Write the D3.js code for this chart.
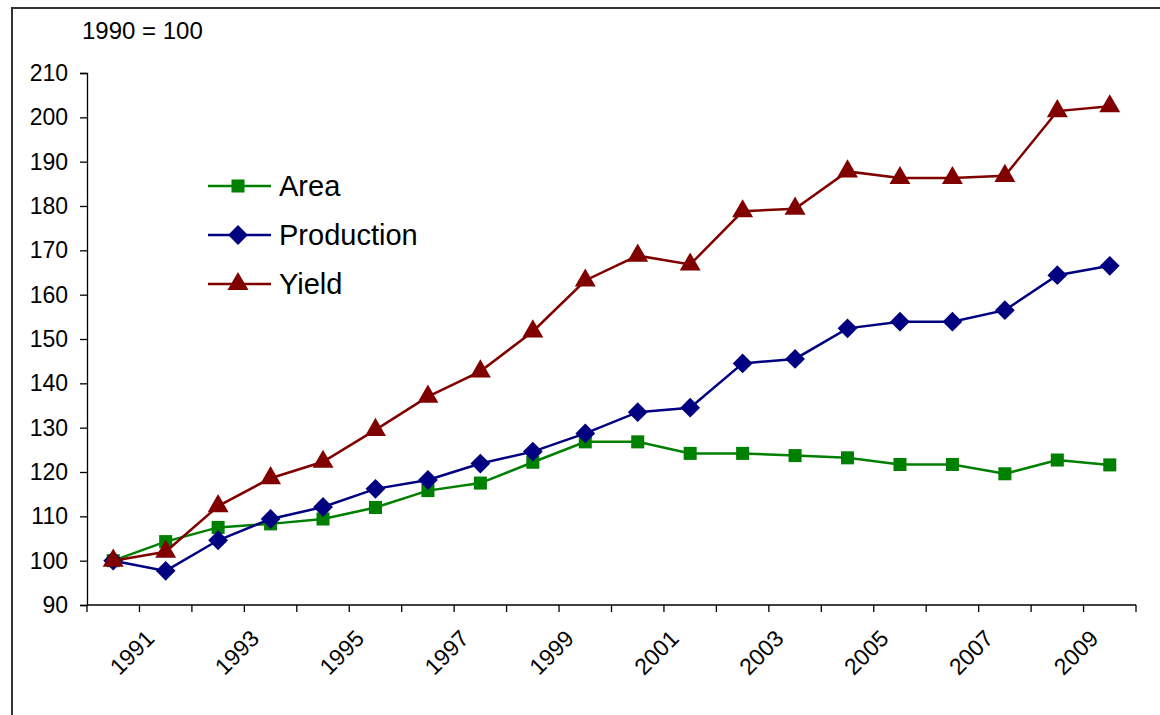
<!DOCTYPE html>
<html>
<head>
<meta charset="utf-8">
<script src="https://d3js.org/d3.v7.min.js"></script>
<style>
  body { margin: 0; background: #fff; }
  svg { font-family: Arial, "Liberation Sans", sans-serif; }
</style>
</head>
<body>
<svg id="chart" width="1160" height="715"></svg>
<script>
var years = d3.range(1990, 2010);
var labelYears = [1991, 1993, 1995, 1997, 1999, 2001, 2003, 2005, 2007, 2009];
var yTicks = [90, 100, 110, 120, 130, 140, 150, 160, 170, 180, 190, 200, 210];

var area = [100, 104.3, 107.5, 108.3, 109.4, 112.0, 115.8, 117.5, 122.2, 126.8,
            126.8, 124.2, 124.2, 123.7, 123.2, 121.7, 121.7, 119.6, 122.7, 121.6];
var production = [100, 97.7, 104.6, 109.4, 112.1, 116.2, 118.2, 121.9, 124.6, 128.7,
                  133.5, 134.5, 144.5, 145.5, 152.4, 153.9, 153.9, 156.5, 164.4, 166.5];
var yieldIdx = [100, 102.0, 112.3, 118.6, 122.3, 129.5, 137.0, 142.7, 151.7, 163.2,
                168.8, 166.8, 178.8, 179.4, 187.8, 186.3, 186.3, 186.8, 201.4, 202.5];

var series = [
  {name: "Area", values: area, color: "#008000", marker: d3.symbolSquare, size: 170},
  {name: "Production", values: production, color: "#000080", marker: d3.symbolDiamond2, size: 250},
  {name: "Yield", values: yieldIdx, color: "#800000", marker: d3.symbolTriangle, size: 190}
];

var svg = d3.select("#chart");
var plotLeft = 87, plotRight = 1136, plotTop = 73, plotBottom = 605;

// outer frame
svg.append("rect")
  .attr("x", 12).attr("y", 8)
  .attr("width", 1160).attr("height", 720)
  .attr("fill", "none").attr("stroke", "#333").attr("stroke-width", 2);

var x = d3.scaleBand()
  .domain(years)
  .range([plotLeft, plotRight])
  .padding(0);

var y = d3.scaleLinear()
  .domain([90, 210])
  .range([plotBottom, plotTop]);

// y axis
var yAxis = svg.append("g")
  .attr("transform", "translate(" + plotLeft + ",0)")
  .call(d3.axisLeft(y).tickValues(yTicks).tickSize(7).tickPadding(12));
yAxis.selectAll("text")
  .attr("font-size", 23)
  .attr("fill", "#000")
  .style("font-family", "Arial, 'Liberation Sans', sans-serif");
yAxis.selectAll("line, path").attr("stroke", "#000").attr("stroke-width", 1.3);

// x axis line and ticks at category boundaries
var xg = svg.append("g");
xg.append("line")
  .attr("x1", x.range()[0]).attr("x2", x.range()[1])
  .attr("y1", y(90)).attr("y2", y(90))
  .attr("stroke", "#000").attr("stroke-width", 1.3);
var bounds = years.map(function(d) { return x(d); }).concat([x.range()[1]]);
xg.selectAll(".xtick")
  .data(bounds)
  .enter().append("line")
  .attr("x1", function(d) { return d; }).attr("x2", function(d) { return d; })
  .attr("y1", y(90)).attr("y2", y(90) + 7)
  .attr("stroke", "#000").attr("stroke-width", 1.3);

xg.selectAll(".xlab")
  .data(labelYears)
  .enter().append("text")
  .attr("transform", function(d) {
    return "translate(" + (x(d) + x.bandwidth() / 2 - 10) + "," + (y(90) + 35) + ") rotate(-45)";
  })
  .attr("text-anchor", "end")
  .attr("font-size", 23)
  .text(function(d) { return d; });

// lines and markers
var line = d3.line()
  .x(function(d, i) { return x(years[i]) + x.bandwidth() / 2; })
  .y(function(d) { return y(d); });

series.forEach(function(s) {
  svg.append("path")
    .datum(s.values)
    .attr("fill", "none")
    .attr("stroke", s.color)
    .attr("stroke-width", 2.5)
    .attr("d", line);
  svg.selectAll(null)
    .data(s.values)
    .enter().append("path")
    .attr("transform", function(d, i) {
      return "translate(" + (x(years[i]) + x.bandwidth() / 2) + "," + y(d) + ")";
    })
    .attr("d", d3.symbol().type(s.marker).size(s.size))
    .attr("fill", s.color);
});

// legend
var legend = svg.append("g");
series.forEach(function(s, i) {
  var ly = 186 + i * 49;
  legend.append("line")
    .attr("x1", 208).attr("x2", 271)
    .attr("y1", ly).attr("y2", ly)
    .attr("stroke", s.color).attr("stroke-width", 2.5);
  legend.append("path")
    .attr("transform", "translate(238," + ly + ")")
    .attr("d", d3.symbol().type(s.marker).size(s.size))
    .attr("fill", s.color);
  legend.append("text")
    .attr("x", 279).attr("y", ly)
    .attr("dy", "0.36em")
    .attr("font-size", 29)
    .text(s.name);
});

// unit note
svg.append("text")
  .attr("x", 82).attr("y", 39)
  .attr("font-size", 24)
  .text("1990 = 100");
</script>
</body>
</html>
